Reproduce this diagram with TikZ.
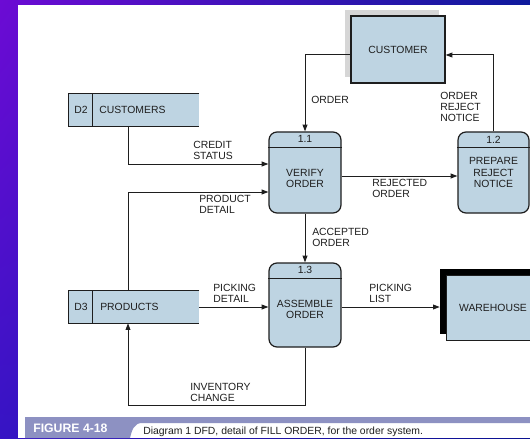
\documentclass[tikz,border=0pt]{standalone}
\usepackage{fontspec}
\setmainfont{Liberation Sans}
\usetikzlibrary{arrows.meta,calc,shadings}
\newcommand\pxu{*0.75pt}
\definecolor{boxblue}{HTML}{BED4E2}
\definecolor{inkgray}{HTML}{1E1E1E}
\definecolor{shadowgray}{HTML}{D6D6D6}
\definecolor{barblue}{HTML}{8D91C2}
\definecolor{bgpurpleA}{HTML}{6C0BD4}
\definecolor{bgpurpleB}{HTML}{3614C4}
\definecolor{bgblueA}{HTML}{0E1A9C}
\definecolor{bgblueB}{HTML}{0A1290}
\begin{document}
\begin{tikzpicture}[x=0.75pt,y=-0.75pt,
  every node/.style={font=\fontsize{7.8}{8.3}\selectfont, text=inkgray},
  ext/.style={draw=inkgray, line width=0.9pt, fill=boxblue, inner sep=0pt},
  proc/.style={draw=inkgray, line width=0.9pt, fill=boxblue, rounded corners=6pt, inner sep=0pt},
  store/.style={fill=boxblue, inner sep=0pt, minimum width=130\pxu, minimum height=32\pxu},
  edge/.style={draw=inkgray, line width=0.9pt},
  flow/.style={draw=inkgray, line width=0.75pt, -{Triangle[length=5pt,width=3.6pt]}},
  flowlabel/.style={anchor=west, align=left, inner sep=0pt}
]
% background frame with its colour wash, and the white sheet
\useasboundingbox (0,0) rectangle (530,438);
\shade[upper left=bgpurpleA, lower left=bgpurpleB, upper right=bgblueA, lower right=bgblueB]
  (0,0) rectangle (530,438);
\fill[white] (18,5) rectangle (530,438);

% external entity CUSTOMER with its offset shadow
\node[fill=shadowgray, minimum width=94\pxu, minimum height=67\pxu, inner sep=0pt] (custsh) at (392,43.5) {};
\node[ext, minimum width=94\pxu, minimum height=67\pxu] (cust) at (398,49.5) {CUSTOMER};

% external entity WAREHOUSE with its heavy black frame
\node[fill=black, minimum width=90\pxu, minimum height=65\pxu, inner sep=0pt] (whsh) at (485,301.5) {};
\node[ext, line width=0.6pt, minimum width=90\pxu, minimum height=65\pxu] (wh) at (491,307.5) {};
\node at (493,307.5) {WAREHOUSE};

% processes
\node[proc, minimum width=72\pxu, minimum height=81\pxu] (v) at (305,172.5) {};
\node[proc, minimum width=71\pxu, minimum height=81\pxu] (p) at (493.5,172.5) {};
\node[proc, minimum width=72\pxu, minimum height=84\pxu] (a) at (305,305) {};
\foreach \n in {v,p,a}
  \draw[edge] ($(\n.north west)+(0,16)$) -- ($(\n.north east)+(0,16)$);
\node at ($(v.north)+(0,8)$) {1.1};
\node at ($(p.north)+(0,8)$) {1.2};
\node at ($(a.north)+(0,8)$) {1.3};
\node[align=center] at (305,178.5) {VERIFY\\ORDER};
\node[align=center] at (493.5,172.5) {PREPARE\\REJECT\\NOTICE};
\node[align=center] at (305,309.5) {ASSEMBLE\\ORDER};

% data stores
\node[store] (d2) at (134,110) {};
\draw[edge] (d2.north east) -- (d2.north west) -- (d2.south west) -- (d2.south east);
\draw[edge] ($(d2.north west)+(24,0)$) -- ($(d2.south west)+(24,0)$);
\node at (81,110) {D2};
\node[anchor=west, inner sep=0pt] at (99,110) {CUSTOMERS};

\node[store] (d3) at (134,307) {};
\draw[edge] (d3.north east) -- (d3.north west) -- (d3.south west) -- (d3.south east);
\draw[edge] ($(d3.north west)+(24,0)$) -- ($(d3.south west)+(24,0)$);
\node at (81,307) {D3};
\node[anchor=west, inner sep=0pt] at (100,307) {PRODUCTS};

% data flows
\draw[flow] (cust.west) ++(0,5.5) -| (v.north);
\draw[flow] (p.north) |- ($(cust.east)+(0,5.5)$);
\draw[flow] ($(v.east)+(0,3.5)$) -- ($(p.west)+(0,3.5)$);
\draw[flow] (v.south) -- (a.north);
\draw[flow] ($(a.east)+(0,2)$) -- ($(whsh.west)+(0,5.5)$);
\draw[flow] (d3.east) -- (a.west |- d3.east);
\draw[flow] ($(d2.south)+(-6,0)$) |- ($(v.west)+(0,-8.5)$);
\draw[flow] ($(d3.north)+(-6,0)$) |- ($(v.west)+(0,19.5)$);
\draw[flow] (a.south) -- ++(0,58) -| ($(d3.south)+(-6,0)$);

% flow labels
\node[flowlabel] (lorder) at (311,100) {ORDER};
\node[flowlabel] (lrej) at (440,106.5) {ORDER\\REJECT\\NOTICE};
\node[flowlabel] (lcredit) at (193,150) {CREDIT\\STATUS};
\node[flowlabel] (lprod) at (199,204.5) {PRODUCT\\DETAIL};
\node[flowlabel] (lrejected) at (372,188.5) {REJECTED\\ORDER};
\node[flowlabel] (laccept) at (312,237.5) {ACCEPTED\\ORDER};
\node[flowlabel] (lpickd) at (213,293.5) {PICKING\\DETAIL};
\node[flowlabel] (lpickl) at (369,293.5) {PICKING\\LIST};
\node[flowlabel] (linv) at (190,392) {INVENTORY\\CHANGE};

% caption band
\fill[barblue] (25,417) -- (530,417) -- (530,423) -- (142,423)
  .. controls (134,423) and (132,430) .. (130,438) -- (25,438) -- cycle;
\node[anchor=west, inner sep=0pt, text=white, font=\bfseries\fontsize{9.2}{10}\selectfont] (fig) at (33,428.5) {FIGURE 4-18};
\node[anchor=west, inner sep=0pt] (cap) at (143,431.5) {Diagram 1 DFD, detail of FILL ORDER, for the order system.};
\end{tikzpicture}
\end{document}
